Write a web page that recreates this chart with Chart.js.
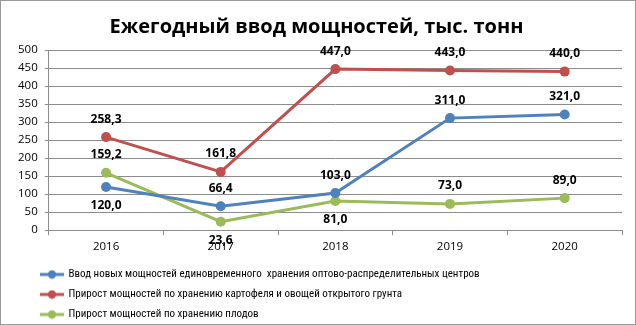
<!DOCTYPE html>
<html>
<head>
<meta charset="utf-8">
<script src="https://cdn.jsdelivr.net/npm/chart.js@4/dist/chart.umd.min.js"></script>
<style>
    html, body { margin: 0; padding: 0; background: #fff; }
    #wrap { width: 636px; height: 325px; box-sizing: border-box; border: 1px solid #9a9a9a; }
</style>
</head>
<body>
<div id="wrap"><canvas id="chart" width="634" height="323"></canvas></div>
<script>
"use strict";

var years = ['2016', '2017', '2018', '2019', '2020'];
var wholesaleCenters = [120.0, 66.4, 103.0, 311.0, 321.0];
var potatoVegetables = [258.3, 161.8, 447.0, 443.0, 440.0];
var fruits = [159.2, 23.6, 81.0, 73.0, 89.0];

var seriesNames = [
    'Ввод новых мощностей единовременного  хранения оптово-распределительных центров',
    'Прирост мощностей по хранению картофеля и овощей открытого грунта',
    'Прирост мощностей по хранению плодов'
];

var COLORS = ['#4f81bd', '#c0504d', '#9bbb59'];
var FONT = "'Open Sans', 'Liberation Sans', sans-serif";
var LEGEND_FONT = "'Roboto Condensed', 'Liberation Sans', sans-serif";
var LEGEND_WIDTH = 470;

// which labels sit under the point instead of above it
var labelBelow = [
    [true, false, false, false, false],
    [false, false, false, false, false],
    [false, true, true, false, false]
];

function legendMarker(color) {
    var c = document.createElement('canvas');
    c.width = 24;
    c.height = 10;
    var ctx = c.getContext('2d');
    ctx.strokeStyle = color;
    ctx.lineWidth = 3;
    ctx.beginPath();
    ctx.moveTo(0, 5);
    ctx.lineTo(24, 5);
    ctx.stroke();
    ctx.fillStyle = color;
    ctx.beginPath();
    ctx.arc(12, 5, 4.2, 0, Math.PI * 2);
    ctx.fill();
    return c;
}

var valueLabels = {
    id: 'valueLabels',
    afterDatasetsDraw: function (chart) {
        var ctx = chart.ctx;
        ctx.save();
        ctx.font = 'bold 12px ' + FONT;
        ctx.fillStyle = '#000';
        ctx.textAlign = 'center';
        ctx.textBaseline = 'middle';
        chart.data.datasets.forEach(function (ds, i) {
            var meta = chart.getDatasetMeta(i);
            meta.data.forEach(function (pt, j) {
                var dy = labelBelow[i][j] ? 19 : -18;
                ctx.fillText(ds.data[j].toFixed(1).replace('.', ','), pt.x, pt.y + dy);
            });
        });
        ctx.restore();
    }
};

// excel stacks the legend entries one per row, on the left
var legendShift = {
    id: 'legendShift',
    beforeLayout: function (chart) {
        var lg = chart.legend;
        if (lg && !lg._narrowed) {
            var update = lg.update;
            lg.update = function (maxWidth, maxHeight, margins) {
                return update.call(this, Math.min(maxWidth, LEGEND_WIDTH), maxHeight, margins);
            };
            lg._narrowed = true;
        }
    },
    afterLayout: function (chart) {
        var lg = chart.legend;
        var h = lg.bottom - lg.top;
        lg.left = 31;
        lg.right = lg.left + LEGEND_WIDTH;
        lg.top += 1;
        lg.bottom = lg.top + h;
    }
};

function makeDataset(name, data, color) {
    return {
        label: name,
        data: data,
        borderColor: color,
        backgroundColor: color,
        borderWidth: 3,
        pointRadius: 5,
        pointHoverRadius: 5,
        pointBorderWidth: 0,
        pointBackgroundColor: color,
        tension: 0
    };
}

var chart = new Chart(document.getElementById('chart'), {
    type: 'line',
    data: {
        labels: years,
        datasets: [
            makeDataset(seriesNames[0], wholesaleCenters, COLORS[0]),
            makeDataset(seriesNames[1], potatoVegetables, COLORS[1]),
            makeDataset(seriesNames[2], fruits, COLORS[2])
        ]
    },
    options: {
        responsive: false,
        animation: false,
        layout: { padding: { left: 10, right: 13, top: 14, bottom: -5 } },
        plugins: {
            title: {
                display: true,
                text: 'Ежегодный ввод мощностей, тыс. тонн',
                color: '#000',
                font: { family: FONT, size: 20, weight: 'bold' },
                padding: { top: 0, bottom: 11 }
            },
            legend: {
                position: 'bottom',
                align: 'start',
                labels: {
                    color: '#000',
                    font: { family: LEGEND_FONT, size: 11 },
                    padding: 9,
                    usePointStyle: true,
                    pointStyleWidth: 22,
                    generateLabels: function (ch) {
                        return ch.data.datasets.map(function (ds, i) {
                            return {
                                text: ds.label,
                                pointStyle: legendMarker(COLORS[i]),
                                fillStyle: COLORS[i],
                                strokeStyle: COLORS[i],
                                lineWidth: 0,
                                datasetIndex: i
                            };
                        });
                    }
                }
            },
            tooltip: { enabled: false }
        },
        scales: {
            x: {
                offset: true,
                grid: {
                    offset: true,
                    drawOnChartArea: false,
                    drawTicks: true,
                    tickLength: 5,
                    color: '#8c8c8c'
                },
                border: { color: '#8c8c8c' },
                ticks: {
                    color: '#000',
                    font: { family: FONT, size: 11.5 },
                    padding: 5
                }
            },
            y: {
                min: 0,
                max: 500,
                ticks: {
                    stepSize: 50,
                    autoSkip: false,
                    color: '#000',
                    font: { family: FONT, size: 11.5 },
                    padding: 7
                },
                grid: {
                    color: '#8c8c8c',
                    tickLength: 4
                },
                border: { color: '#8c8c8c' }
            }
        }
    },
    plugins: [valueLabels, legendShift]
});
</script>
</body>
</html>
